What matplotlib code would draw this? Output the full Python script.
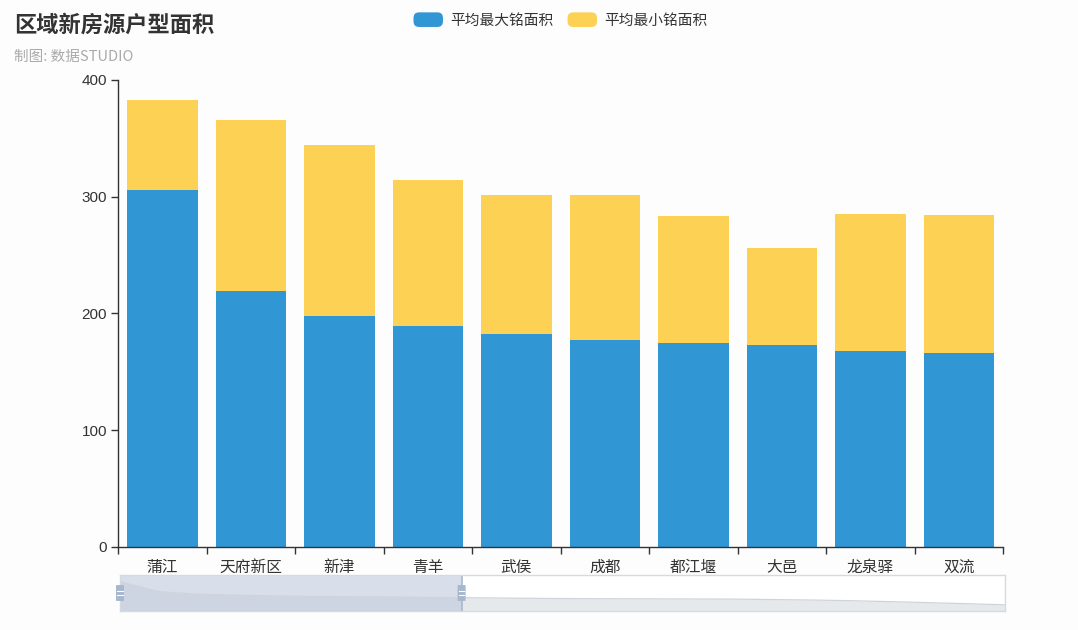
import matplotlib
matplotlib.use('Agg')
import matplotlib.pyplot as plt
from matplotlib.patches import FancyBboxPatch, Patch, Rectangle
from matplotlib.legend_handler import HandlerPatch
import numpy as np

plt.rcParams['font.family'] = ['Noto Sans CJK SC', 'DejaVu Sans']
plt.rcParams['axes.unicode_minus'] = False

# 数据 (图中显示的 10 个区域)
regions = ['蒲江', '天府新区', '新津', '青羊', '武侯', '成都', '都江堰', '大邑', '龙泉驿', '双流']
max_area = [306, 219, 198, 189, 182, 177, 175, 173, 168, 166]
min_area = [77, 147, 146, 125, 119, 124, 108, 83, 117, 118]
# 滑块阴影里其余未显示区域的平均最大铭面积 (从阴影估读)
shadow_rest = [163, 160, 158, 157, 156, 155, 154, 150, 146, 140, 132, 123, 114, 104]
y_ticks = [0, 100, 200, 300, 400]
zoom_start, zoom_end = 0, 38.6   # 百分比

BLUE = '#3096d4'
YELLOW = '#fdd153'
AXIS = '#333333'
BG = '#fdfdfe'


class RoundHandler(HandlerPatch):
    def create_artists(self, legend, orig_handle, xdescent, ydescent,
                       width, height, fontsize, trans):
        p = FancyBboxPatch((-xdescent, -ydescent), width, height,
                           boxstyle='round,pad=0,rounding_size=4',
                           fc=orig_handle.get_facecolor(), ec='none',
                           transform=trans)
        return [p]


fig = plt.figure(figsize=[10.78, 6.3], dpi=100)
fig.patch.set_facecolor(BG)
ax = fig.add_axes([0.1097, 0.1322, 0.821, 0.7409])
ax.set_facecolor(BG)

x = np.arange(len(regions))
ax.bar(x, max_area, width=0.8, color=BLUE, label='平均最大铭面积')
ax.bar(x, min_area, width=0.8, bottom=max_area, color=YELLOW, label='平均最小铭面积')

ax.set_xlim(-0.5, len(regions) - 0.5)
ax.set_ylim(0, 400)
ax.set_yticks(y_ticks)
ax.set_yticklabels([str(v) for v in y_ticks], family=['Liberation Sans', 'DejaVu Sans'],
                   fontsize=11, color='#333333')
ax.tick_params(axis='y', colors=AXIS, length=5, width=1, pad=3)

# x 轴: 刻度在类目边界, 标签在类目中心
ax.set_xticks(np.arange(-0.5, len(regions), 1.0))
ax.set_xticklabels([])
ax.set_xticks(x, minor=True)
ax.set_xticklabels(regions, minor=True, fontsize=11.3, color=AXIS)
ax.tick_params(axis='x', which='major', length=5, width=1, colors=AXIS)
ax.tick_params(axis='x', which='minor', length=0, pad=9)

for s in ['top', 'right']:
    ax.spines[s].set_visible(False)
for s in ['left', 'bottom']:
    ax.spines[s].set_color(AXIS)
    ax.spines[s].set_linewidth(1)

# 标题
fig.text(14 / 1078, 1 - 25 / 630, '区域新房源户型面积', fontsize=16,
         fontweight='bold', color='#333333', va='center', ha='left')
fig.text(14 / 1078, 1 - 57 / 630, '制图: 数据STUDIO', fontsize=10.5,
         color='#aaaaaa', va='center', ha='left')

# 图例
handles = [Patch(facecolor=BLUE, label='平均最大铭面积'),
           Patch(facecolor=YELLOW, label='平均最小铭面积')]
fig.legend(handles=handles, loc='center', bbox_to_anchor=(0.52, 1 - 20 / 630),
           ncol=2, frameon=False, fontsize=10.6, handlelength=2.0,
           handleheight=1.15, handletextpad=0.5, columnspacing=0.95,
           handler_map={Patch: RoundHandler()}, labelcolor='#333333')

# 数据缩放滑块
shadow = max_area + shadow_rest
sx = np.arange(len(shadow))
sax = fig.add_axes([120 / 1078, 19 / 630, 885 / 1078, 36 / 630])
sax.set_facecolor('#ffffff')
sax.fill_between(sx, shadow, 0, color='#e6e9ec', lw=0)
sax.plot(sx, shadow, color='#cfd4da', lw=0.9)
sax.set_xlim(0, len(shadow) - 1)
sax.set_ylim(50, 365)
sel0 = zoom_start / 100 * (len(shadow) - 1)
sel1 = zoom_end / 100 * (len(shadow) - 1)
sax.axvspan(sel0, sel1, color='#b8c6d9', alpha=0.55, lw=0)
for frac in (zoom_start / 100, zoom_end / 100):
    sax.axvline(sel0 if frac == zoom_start / 100 else sel1, color='#a9b8cc', lw=1.2)
    sax.add_patch(FancyBboxPatch((frac - 0.0045, 0.28), 0.009, 0.44,
                                 boxstyle='round,pad=0,rounding_size=0.003',
                                 fc='#a7b7cc', ec='none', transform=sax.transAxes,
                                 zorder=5, clip_on=False))
    for hy in (0.44, 0.56):
        sax.plot([frac - 0.003, frac + 0.003], [hy, hy], color='white', lw=0.8,
                 transform=sax.transAxes, zorder=6, clip_on=False)
sax.set_xticks([])
sax.set_yticks([])
for s in sax.spines.values():
    s.set_color('#d5dae0')
    s.set_linewidth(1)

fig.savefig('out.png', dpi=100, facecolor=fig.get_facecolor())
